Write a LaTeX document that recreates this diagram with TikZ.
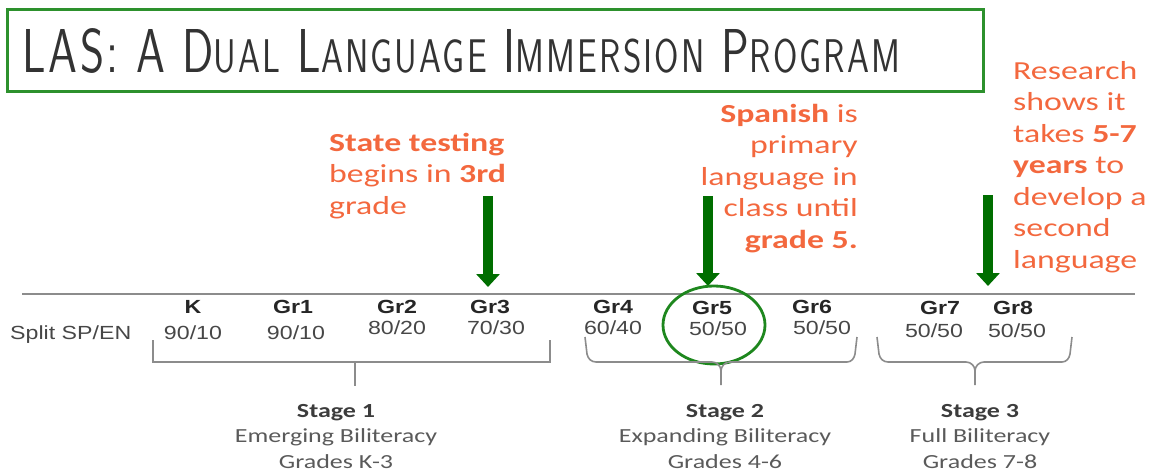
\documentclass[tikz,border=0pt]{standalone}
\usepackage{fontspec}
\usetikzlibrary{arrows.meta,shapes.geometric}
\newfontfamily\carl[FakeStretch=1.3]{Carlito}
\newfontfamily\arl[FakeStretch=1.22]{Liberation Sans}
\newfontfamily\ttlfont[LetterSpace=6]{Latin Modern Sans}
\definecolor{orng}{RGB}{243,104,62}
\definecolor{dgreen}{RGB}{0,110,0}
\definecolor{cgreen}{RGB}{30,135,30}
\definecolor{bgreen}{RGB}{45,145,45}
\definecolor{lgray}{RGB}{140,140,140}
\definecolor{tgray}{RGB}{90,90,90}
\definecolor{sgray}{RGB}{60,60,60}
\newcommand\tsc[2]{#1{\fontsize{30.5}{30}\selectfont #2}}
\tikzset{
  grade/.style={inner sep=0pt, anchor=base, font=\arl\bfseries\fontsize{19}{22}\selectfont, text=black!85},
  ratio/.style={inner sep=0pt, anchor=base, font=\arl\fontsize{19}{22}\selectfont, text=black!72},
  note/.style={inner sep=0pt, font=\carl\fontsize{26}{31.5}\selectfont, text=orng},
  stage/.style={inner sep=0pt, anchor=north, align=center, font=\carl\fontsize{20}{25.5}\selectfont, text=tgray},
  bigarrow/.style={dgreen, line width=10pt, -{Triangle[width=23pt,length=13pt]}},
  brk/.style={lgray, line width=1.6pt},
}
\begin{document}
\begin{tikzpicture}[x=1pt,y=-1pt]
\useasboundingbox (0,0) rectangle (1157,474);
% title
\node[draw=bgreen, line width=3.2pt, minimum width=976pt, minimum height=82pt, anchor=north west, inner sep=0pt] (tbox) at (6,8) {};
\node[inner sep=0pt, anchor=base west, text=black!80] (title) at (22,72)
  {\resizebox{878pt}{44pt}{\ttlfont\fontsize{40}{40}\selectfont LAS:\ A\ \tsc{D}{UAL}\ \tsc{L}{ANGUAGE}\ \tsc{I}{MMERSION}\ \tsc{P}{ROGRAM}}};
% axis
\coordinate (axL) at (22,294);
\coordinate (axR) at (1135,294);
\draw[lgray, line width=1.8pt] (axL) -- (axR);
% notes
\node[note, anchor=north west, align=left] (n1) at (329,133)
  {\textbf{State testing}\\begins in \textbf{3rd}\\grade};
\node[note, anchor=north east, align=right] (n2) at (858,104)
  {\textbf{Spanish} is\\primary\\language in\\class until\\\textbf{grade 5.}};
\node[note, anchor=north west, align=left] (n3) at (1013,61)
  {Research\\shows it\\takes \textbf{5-7}\\\textbf{years} to\\develop a\\second\\language};
% arrows
\coordinate (a1s) at (488,196); \coordinate (a1e) at (488,287);
\coordinate (a2s) at (708,196); \coordinate (a2e) at (708,286);
\coordinate (a3s) at (988,195); \coordinate (a3e) at (988,286);
\draw[bigarrow] (a1s) -- (a1e);
\draw[bigarrow] (a2s) -- (a2e);
\draw[bigarrow] (a3s) -- (a3e);
% grades
\node[grade] (gK) at (193,313) {K};
\node[grade] (g1) at (293,313) {Gr1};
\node[grade] (g2) at (397,313) {Gr2};
\node[grade] (g3) at (490,313) {Gr3};
\node[grade] (g4) at (613,313) {Gr4};
\node[grade] (g5) at (712,314) {Gr5};
\node[grade] (g6) at (812,313) {Gr6};
\node[grade] (g7) at (940,314) {Gr7};
\node[grade] (g8) at (1013,314) {Gr8};
\node[ratio, anchor=base west] (split) at (10,339) {Split SP/EN};
\node[ratio] (vK) at (193,339) {90/10};
\node[ratio] (v1) at (296,339) {90/10};
\node[ratio] (v2) at (397,334) {80/20};
\node[ratio] (v3) at (496,334) {70/30};
\node[ratio] (v4) at (613,334) {60/40};
\node[ratio] (v5) at (718,335) {50/50};
\node[ratio] (v6) at (822,334) {50/50};
\node[ratio] (v7) at (934,337) {50/50};
\node[ratio] (v8) at (1017,337) {50/50};
% circle
\node[draw=cgreen, line width=2.8pt, ellipse, minimum width=102pt, minimum height=78pt, inner sep=0pt] (circ) at (714,325) {};
% brackets
\draw[brk] (153,340) -- (153,362) -- (550,362) -- (550,340);
\draw[brk] (355,362) -- (355,386);
\draw[brk] (585,337) -- (587,354) to[out=-80,in=180] (596,362) -- (712,362) to[out=0,in=90] (721,371) -- (721,385);
\draw[brk] (721,371) to[out=90,in=180] (730,362) -- (847,362) to[out=0,in=-100] (855,354) -- (857,337);
\draw[brk] (877,337) -- (879,354) to[out=-80,in=180] (888,362) -- (966,362) to[out=0,in=90] (975,371) -- (975,385);
\draw[brk] (975,371) to[out=90,in=180] (984,362) -- (1062,362) to[out=0,in=-100] (1070,354) -- (1072,337);
% stages
\node[stage] (s1) at (336,404) {{\bfseries\color{sgray}Stage 1}\\Emerging Biliteracy\\Grades K-3};
\node[stage] (s2) at (725,404) {{\bfseries\color{sgray}Stage 2}\\Expanding Biliteracy\\Grades 4-6};
\node[stage] (s3) at (980,404) {{\bfseries\color{sgray}Stage 3}\\Full Biliteracy\\Grades 7-8};
\end{tikzpicture}
\end{document}
